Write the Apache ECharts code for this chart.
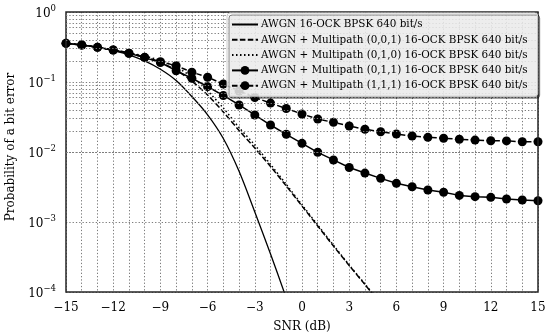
<!DOCTYPE html>
<html>
<head>
<meta charset="utf-8">
<script src="https://cdn.jsdelivr.net/npm/echarts@6/dist/echarts.min.js"></script>
<style>html,body{margin:0;padding:0;background:#fff;}#c{width:550px;height:335px;}</style>
</head>
<body>
<div id="c"></div>
<script>
// SNR (dB) sample points
const snr = [-15,-14,-13,-12,-11,-10,-9,-8,-7,-6,-5,-4,-3,-2,-1,0,1,2,3,4,5,6,7,8,9,10,11,12,13,14,15];
// AWGN 16-OCK BPSK 640 bit/s (values from -15 dB upward)
const awgn = [0.357,0.338,0.312,0.281,0.245,0.2,0.152,0.105,0.062,0.034,0.0156,0.0053,0.00139,0.00035,0.000082];
// AWGN + Multipath (0,0,1)
const mp001 = [0.357,0.338,0.313,0.286,0.26,0.228,0.19,0.148,0.103,0.0652,0.0373,0.0203,0.0114,0.0062,0.00327,0.00169,0.000877,0.000454,0.000239,0.000128,0.0000674];
// AWGN + Multipath (0,1,0)
const mp010 = [0.357,0.338,0.313,0.286,0.26,0.235,0.203,0.164,0.118,0.0744,0.0425,0.0224,0.0126,0.00665,0.00345,0.00176,0.000905,0.000466,0.000243,0.00013,0.000068];
// AWGN + Multipath (0,1,1)
const mp011 = [0.357,0.338,0.313,0.287,0.257,0.223,0.19,0.145,0.113,0.0857,0.0642,0.047,0.0338,0.0243,0.0179,0.0133,0.0099,0.0077,0.006,0.005,0.0042,0.00357,0.00319,0.00286,0.00266,0.0024,0.0023,0.00225,0.00213,0.00206,0.00201];
// AWGN + Multipath (1,1,1)
const mp111 = [0.357,0.338,0.313,0.287,0.257,0.225,0.195,0.171,0.138,0.117,0.0936,0.0744,0.06,0.05,0.0418,0.0349,0.0296,0.0265,0.0235,0.0211,0.0195,0.0181,0.0169,0.0162,0.0157,0.0152,0.0148,0.0145,0.0144,0.014,0.014];

const seriesNames = [
  'AWGN 16-OCK BPSK 640 bit/s',
  'AWGN + Multipath (0,0,1) 16-OCK BPSK 640 bit/s',
  'AWGN + Multipath (0,1,0) 16-OCK BPSK 640 bit/s',
  'AWGN + Multipath (0,1,1) 16-OCK BPSK 640 bit/s',
  'AWGN + Multipath (1,1,1) 16-OCK BPSK 640 bit/s'
];
const xTickLabels = [-15,-12,-9,-6,-3,0,3,6,9,12,15];
const yMajorTicks = [1e-4,1e-3,1e-2,1e-1,1];
const yMinorGrid = [2e-4,3e-4,4e-4,5e-4,6e-4,7e-4,8e-4,9e-4,
  2e-3,3e-3,4e-3,5e-3,6e-3,7e-3,8e-3,9e-3,
  2e-2,3e-2,4e-2,5e-2,6e-2,7e-2,8e-2,9e-2,
  0.2,0.3,0.4,0.5,0.6,0.7,0.8,0.9];

function pairs(arr){ return arr.map((v,i)=>[snr[i], v]); }

const FONT = 'DejaVu Serif';
const gridColor = '#7c7c7c';
const gridType = [1.3,2];
const chart = echarts.init(document.getElementById('c'), null, {renderer:'canvas'});

const common = {type:'line', animation:false, z:3, clip:true, color:'#000'};
const dashed = [5.5,2.4];
const dotted = [1.5,2.5];

chart.setOption({
  animation:false,
  backgroundColor:'#fff',
  textStyle:{fontFamily:FONT},
  grid:{left:66, right:12, top:12, bottom:43, show:true, borderColor:'#262626', borderWidth:1.5, backgroundColor:'transparent', z:4,
    containLabel:false, outerBoundsMode:'none'},
  legend:{
    data:seriesNames,
    orient:'vertical',
    left:227, top:13,
    itemWidth:26, itemHeight:11, itemGap:4.3,
    padding:[6,10,5,4],
    backgroundColor:'rgba(255,255,255,0.8)',
    borderColor:'#cccccc', borderWidth:1, borderRadius:3,
    shadowColor:'rgba(0,0,0,0.45)', shadowBlur:0, shadowOffsetX:2, shadowOffsetY:2,
    textStyle:{fontFamily:FONT, fontSize:10.4, color:'#000', lineHeight:11, padding:[0,0,0,-2]},
    z:10
  },
  xAxis:{
    type:'value', min:-15, max:15, interval:1,
    name:'SNR (dB)', nameLocation:'middle', nameGap:29,
    nameTextStyle:{fontFamily:FONT, fontSize:12, color:'#000'},
    axisLine:{show:false}, axisTick:{show:false},
    axisLabel:{fontFamily:FONT, fontSize:12, color:'#000', margin:10,
      formatter:function(v){ return xTickLabels.indexOf(v)>=0 ? String(v).replace('-', '\u2212') : ''; }},
    splitLine:{show:true, lineStyle:{type:gridType, color:gridColor, width:1}}
  },
  yAxis:{
    type:'log', logBase:10, min:1e-4, max:1,
    name:'Probability of a bit error', nameLocation:'middle', nameGap:40,
    nameTextStyle:{fontFamily:FONT, fontSize:12, color:'#000', padding:[0,0,0,10]},
    axisLine:{show:false}, axisTick:{show:false},
    axisLabel:{margin:10,
      formatter:function(v){
        const e = Math.round(Math.log10(v));
        if (yMajorTicks.indexOf(Math.pow(10,e))<0) return '';
        return '{b|10}{s|' + String(e).replace('-', '\u2212') + '}';
      },
      rich:{
        b:{fontFamily:FONT, fontSize:12, color:'#000', verticalAlign:'bottom', lineHeight:16},
        s:{fontFamily:FONT, fontSize:8.5, color:'#000', verticalAlign:'top', lineHeight:16, padding:[0,0,6,0]}
      }
    },
    splitLine:{show:true, lineStyle:{type:gridType, color:gridColor, width:1}}
  },
  series:[
    {type:'line', name:'_grid', data:[], silent:true, z:1, animation:false,
      markLine:{silent:true, symbol:['none','none'], label:{show:false}, animation:false,
        lineStyle:{type:gridType, color:gridColor, width:1},
        data: yMinorGrid.map(v=>({yAxis:v}))}},
    Object.assign({}, common, {name:seriesNames[0], data:pairs(awgn), symbol:'circle', showSymbol:false, smooth:0.3,
      itemStyle:{color:'#000', opacity:0}, lineStyle:{color:'#000', width:1.3, type:'solid'}}),
    Object.assign({}, common, {name:seriesNames[1], data:pairs(mp001), symbol:'circle', showSymbol:false, smooth:0.3,
      itemStyle:{color:'#000', opacity:0}, lineStyle:{color:'#000', width:1.5, type:dashed}}),
    Object.assign({}, common, {name:seriesNames[2], data:pairs(mp010), symbol:'circle', showSymbol:false, smooth:0.3,
      itemStyle:{color:'#000', opacity:0}, lineStyle:{color:'#000', width:1.5, type:dotted}}),
    Object.assign({}, common, {name:seriesNames[3], data:pairs(mp011), symbol:'circle', symbolSize:9, showAllSymbol:true,
      itemStyle:{color:'#000'}, lineStyle:{color:'#000', width:1.5, type:'solid'}}),
    Object.assign({}, common, {name:seriesNames[4], data:pairs(mp111), symbol:'circle', symbolSize:9, showAllSymbol:true,
      itemStyle:{color:'#000'}, lineStyle:{color:'#000', width:1.5, type:dashed}})
  ]
});
</script>
</body>
</html>
